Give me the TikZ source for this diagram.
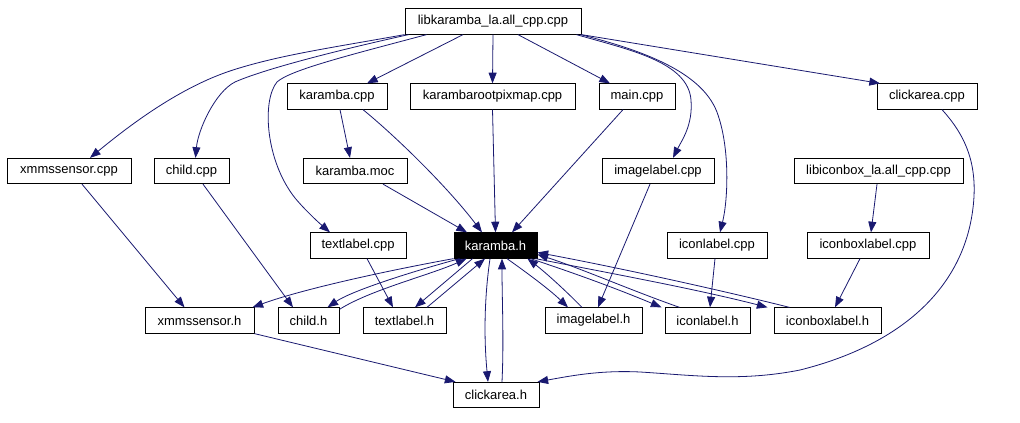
\documentclass[tikz,border=0pt]{standalone}
\usepackage{fontspec}
\setmainfont{Liberation Sans}
\usetikzlibrary{arrows.meta,calc}
\definecolor{edgeblue}{HTML}{191970}
\begin{document}
\begin{tikzpicture}[x=0.75pt,y=-0.75pt,
  box/.style={draw=black, line width=0.7pt, fill=white, inner sep=0pt,
    minimum height=19pt, font=\fontsize{9.75}{11}\selectfont},
  hbox/.style={box, fill=black, text=white},
  edge/.style={draw=edgeblue, line width=0.6pt, -{Triangle[length=8pt,width=6pt]}}]
\useasboundingbox[fill=white] (0,0) rectangle (1020,423);

% row 0
\node[box, minimum width=132pt] (lib) at (493,21.5) {libkaramba\_la.all\_cpp.cpp};
% row 1
\node[box, minimum width=75pt] (kcpp) at (337,96.5) {karamba.cpp};
\node[box, minimum width=123.75pt] (krp) at (492.5,96.5) {karambarootpixmap.cpp};
\node[box, minimum width=57pt] (main) at (637,96.5) {main.cpp};
\node[box, minimum width=75pt] (cacpp) at (927,96.5) {clickarea.cpp};
% row 2
\node[box, minimum width=93pt] (xcpp) at (69,171) {xmmssensor.cpp};
\node[box, minimum width=56.25pt] (chcpp) at (191.5,171) {child.cpp};
\node[box, minimum width=78pt] (moc) at (355,171) {karamba.moc};
\node[box, minimum width=84pt] (ilcpp) at (658,171) {imagelabel.cpp};
\node[box, minimum width=126.75pt] (libicon) at (878.5,171) {libiconbox\_la.all\_cpp.cpp};
% row 3
\node[box, minimum width=72pt] (tlcpp) at (358,245.5) {textlabel.cpp};
\node[hbox, minimum width=62.25pt] (kh) at (495.5,245.5) {karamba.h};
\node[box, minimum width=75pt] (iccpp) at (717,245.5) {iconlabel.cpp};
\node[box, minimum width=91.5pt] (ibcpp) at (868,245.5) {iconboxlabel.cpp};
% row 4
\node[box, minimum width=81.75pt] (xh) at (199.5,320.5) {xmmssensor.h};
\node[box, minimum width=45.75pt] (chh) at (308.5,320.5) {child.h};
\node[box, minimum width=62.25pt] (tlh) at (404.5,320.5) {textlabel.h};
\node[box, minimum width=72.75pt] (ilh) at (593.5,320.5) {imagelabel.h};
\node[box, minimum width=63.75pt] (ich) at (707.5,320.5) {iconlabel.h};
\node[box, minimum width=80.25pt] (ibh) at (827.5,320.5) {iconboxlabel.h};
% row 5
\node[box, minimum width=64.5pt] (cah) at (496,395) {clickarea.h};

% edges from libkaramba_la.all_cpp.cpp
\draw[edge] (lib.south west) .. controls (330,48) and (280,55) .. (233,70) .. controls (180,87) and (130,125) .. ($(xcpp.north)+(21,0)$);
\draw[edge] ($(lib.south west)+(4,0)$) .. controls (330,52) and (262,70) .. (235,82) .. controls (215,92) and (198,130) .. ($(chcpp.north)+(4,0)$);
\draw[edge] ($(lib.south west)+(22,0)$) .. controls (350,55) and (290,70) .. (277,82) .. controls (262,100) and (265,160) .. (295,198) .. controls (305,210) and (318,222) .. ($(tlcpp.north)+(-28,0)$);
\draw[edge] ($(lib.south)+(-30,0)$) -- ($(kcpp.north)+(30,0)$);
\draw[edge] (lib.south) -- (krp.north);
\draw[edge] ($(lib.south)+(25,0)$) -- ($(main.north)+(-27,0)$);
\draw[edge] ($(lib.south east)+(-5,0)$) .. controls (630,50) and (688,62) .. (691,100) .. controls (693,125) and (682,140) .. ($(ilcpp.north)+(15,0)$);
\draw[edge] ($(lib.south east)+(-1,0)$) .. controls (650,52) and (705,75) .. (718,115) .. controls (730,150) and (728,200) .. ($(iccpp.north)+(3,0)$);
\draw[edge] (lib.south east) -- ($(cacpp.north)+(-47,0)$);

% other top edges
\draw[edge] ($(kcpp.south)+(3,0)$) -- ($(moc.north)+(-5,0)$);
\draw[edge] ($(kcpp.south)+(26,0)$) .. controls (400,140) and (450,190) .. ($(kh.north)+(-13.5,0)$);
\draw[edge] (krp.south) -- (kh.north);
\draw[edge] ($(main.south)+(-14,0)$) -- ($(kh.north)+(16.5,0)$);
\draw[edge] ($(moc.south)+(28,0)$) -- ($(kh.north)+(-28.5,0)$);
\draw[edge] ($(tlcpp.south)+(9,0)$) -- ($(tlh.north)+(-11.5,0)$);
\draw[edge] ($(xcpp.south)+(13,0)$) -- ($(xh.north)+(-15,0)$);
\draw[edge] ($(chcpp.south)+(11.5,0)$) -- ($(chh.north)+(-15.5,0)$);
\draw[edge] ($(ilcpp.south)+(-8,0)$) -- ($(ilh.north)+(4.5,0)$);
\draw[edge] ($(iccpp.south)+(-2,0)$) -- ($(ich.north)+(2.5,0)$);
\draw[edge] ($(libicon.south)+(-1.5,0)$) -- ($(ibcpp.north)+(3,0)$);
\draw[edge] ($(ibcpp.south)+(-8,0)$) -- ($(ibh.north)+(7.5,0)$);
\draw[edge] ($(cacpp.south)+(15,0)$) .. controls (965,135) and (980,165) .. (972,215) .. controls (960,290) and (900,345) .. (800,370) .. controls (740,382) and (690,375) .. (640,372) .. controls (600,370) and (570,376) .. ($(cah.north east)+(-2,0)$);
\draw[edge] (xh.south east) -- ($(cah.north west)+(3,0)$);

% karamba.h edges
\draw[edge] (kh.south west) .. controls (380,272) and (300,290) .. ($(xh.north east)+(-2,0)$);
\draw[edge] ($(kh.south west)+(6,0)$) .. controls (400,275) and (350,292) .. ($(chh.north east)+(-12,0)$);
\draw[edge] ($(chh.north east)+(0,2)$) .. controls (370,290) and (430,275) .. ($(kh.south west)+(13,0)$);
\draw[edge] ($(kh.south west)+(19,0)$) -- ($(tlh.north)+(10.5,0)$);
\draw[edge] ($(tlh.north)+(22.5,0)$) -- ($(kh.south)+(-10.5,0)$);
\draw[edge] ($(kh.south)+(-5.5,0)$) .. controls (484,300) and (484,340) .. ($(cah.north)+(-8,0)$);
\draw[edge] ($(cah.north)+(6,0)$) .. controls (504,340) and (502,300) .. ($(kh.south)+(6.5,0)$);
\draw[edge] ($(kh.south)+(11.5,0)$) .. controls (530,275) and (550,290) .. ($(ilh.north)+(-25.5,0)$);
\draw[edge] ($(ilh.north)+(-11.5,0)$) .. controls (565,290) and (545,272) .. ($(kh.south east)+(-10,0)$);
\draw[edge] ($(kh.south east)+(-7,0)$) .. controls (580,275) and (620,290) .. ($(ich.north west)+(-3,0)$);
\draw[edge] ($(ich.north west)+(15,0)$) .. controls (630,290) and (580,268) .. ($(kh.east)+(0,9)$);
\draw[edge] ($(kh.south east)+(-2,0)$) .. controls (620,275) and (700,290) .. ($(ibh.north west)+(-6,0)$);
\draw[edge] ($(ibh.north west)+(16,0)$) .. controls (720,290) and (620,268) .. ($(kh.east)+(0,7)$);
\end{tikzpicture}
\end{document}
